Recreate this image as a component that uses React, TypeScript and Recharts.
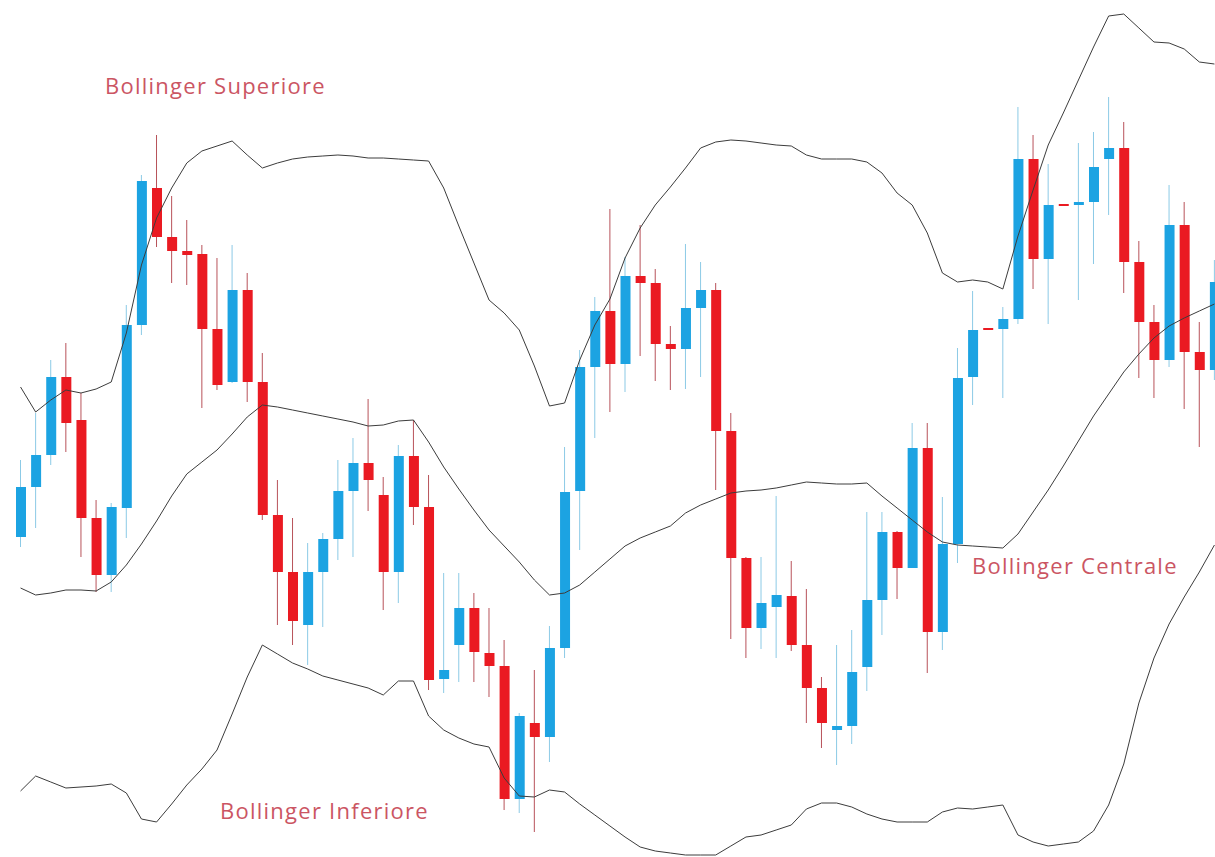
import { ComposedChart, Bar, Line, XAxis, YAxis, Cell } from "recharts";

// candle prices (open / high / low / close), one entry per period
const opens = [
  320, 370, 402, 480, 437, 339, 282, 349, 532, 669, 620, 606, 603, 528, 475, 567, 475, 342, 285, 232,
  285, 318, 366, 394, 362, 285, 401, 350, 178, 212, 249, 204, 191, 58, 134, 120, 209, 366, 490, 546,
  493, 581, 574, 513, 508, 549, 567, 426, 299, 229, 250, 261, 212, 169, 127, 131, 190, 257, 325, 289,
  409, 225, 313, 480, 528, 528, 538, 698, 598, 652, 652, 655, 698, 709, 595, 535, 497, 632, 505, 487,
];
const highs = [
  397, 444, 497, 514, 464, 357, 354, 552, 682, 722, 661, 637, 612, 599, 612, 584, 504, 377, 339, 314,
  324, 397, 419, 458, 380, 412, 437, 382, 284, 284, 264, 249, 217, 144, 187, 231, 410, 507, 560, 648,
  600, 632, 588, 531, 613, 595, 574, 444, 300, 300, 361, 296, 268, 180, 212, 227, 345, 345, 326, 434,
  434, 360, 509, 566, 528, 550, 750, 722, 693, 652, 714, 725, 760, 735, 616, 552, 672, 655, 535, 597,
];
const lows = [
  310, 329, 392, 405, 300, 265, 265, 319, 522, 610, 574, 572, 449, 467, 474, 455, 337, 232, 212, 192,
  230, 297, 300, 346, 247, 254, 332, 167, 164, 175, 175, 160, 47, 44, 25, 95, 199, 307, 419, 445,
  465, 501, 476, 467, 468, 480, 367, 218, 199, 208, 199, 206, 134, 109, 92, 113, 166, 222, 258, 289,
  184, 207, 294, 452, 527, 459, 533, 568, 533, 651, 557, 593, 642, 564, 479, 459, 490, 448, 410, 477,
];
const closes = [
  370, 402, 480, 434, 339, 282, 350, 532, 676, 620, 606, 602, 528, 472, 567, 475, 342, 285, 236, 285,
  318, 366, 394, 377, 285, 401, 350, 177, 187, 249, 205, 191, 58, 141, 120, 209, 365, 490, 546, 493,
  581, 574, 513, 508, 549, 567, 426, 299, 229, 254, 262, 212, 169, 134, 131, 185, 257, 325, 289, 409,
  225, 313, 479, 527, 527, 538, 698, 598, 652, 651, 655, 690, 709, 595, 535, 497, 632, 505, 487, 575,
];

// Bollinger bands
const upperBand = [
  470, 445, 457, 467, 464, 468, 475, 524, 592, 639, 669, 694, 706, 711, 716, 702, 689, 694, 698, 700,
  701, 702, 701, 699, 699, 698, 697, 696, 669, 631, 594, 557, 544, 527, 491, 451, 454, 497, 532, 558,
  599, 629, 652, 670, 689, 709, 715, 717, 716, 714, 712, 711, 702, 698, 698, 698, 695, 684, 664, 652,
  624, 584, 575, 577, 575, 568, 621, 667, 712, 744, 777, 810, 841, 843, 829, 815, 814, 808, 795, 793,
];
const middleBand = [
  269, 262, 264, 267, 267, 266, 275, 292, 313, 336, 361, 383, 395, 407, 423, 440, 452, 450, 447, 444,
  441, 438, 435, 431, 432, 436, 437, 415, 390, 368, 347, 327, 311, 295, 277, 262, 264, 272, 285, 298,
  311, 319, 325, 331, 344, 352, 358, 364, 366, 367, 369, 372, 375, 374, 373, 373, 374, 361, 349, 337,
  325, 315, 312, 311, 310, 309, 323, 345, 367, 391, 416, 441, 463, 485, 503, 519, 531, 539, 546, 553,
];
const lowerBand = [
  66, 81, 75, 69, 70, 71, 73, 64, 38, 35, 53, 72, 88, 107, 143, 180, 212, 203, 194, 188,
  181, 177, 173, 169, 162, 176, 176, 141, 127, 119, 113, 110, 79, 61, 60, 67, 65, 53, 42, 31,
  20, 10, 6, 4, 2, 2, 2, 11, 20, 22, 27, 32, 48, 54, 54, 50, 43, 38, 35, 35,
  35, 45, 49, 48, 50, 52, 22, 15, 11, 13, 15, 26, 52, 93, 154, 199, 233, 260, 285, 312,
];

const UP = "#1CA3E2";
const DOWN = "#EA1A22";
const UP_WICK = "#8CCAE6";
const DOWN_WICK = "#B8525A";
const LABEL = "#CB5563";

const rows = opens.map((o, i) => ({
  period: i + 1,
  body: [Math.min(o, closes[i]), Math.max(o, closes[i])],
  wick: [lows[i], highs[i]],
  up: closes[i] >= o,
  upper: upperBand[i],
  middle: middleBand[i],
  lower: lowerBand[i],
}));

const labelStyle = {
  position: "absolute" as const,
  fontFamily: "'Open Sans', Lato, sans-serif",
  fontSize: 22,
  lineHeight: "24px",
  color: LABEL,
  whiteSpace: "nowrap" as const,
  letterSpacing: 1.25,
};

export default function App() {
  return (
    <div
      style={{
        position: "absolute",
        left: 0,
        top: 0,
        width: 1215,
        height: 857,
        overflow: "hidden",
        background: "#fff",
      }}
    >
      <ComposedChart
        width={1222}
        height={857}
        data={rows}
        margin={{ top: 0, right: 0, bottom: 0, left: 13 }}
      >
        <XAxis xAxisId="body" dataKey="period" hide />
        <XAxis xAxisId="wick" dataKey="period" hide />
        <YAxis domain={[0, 857]} hide allowDataOverflow />
        <Line xAxisId="body" dataKey="upper" stroke="#3c3c3c" strokeWidth={1} dot={false} isAnimationActive={false} />
        <Line xAxisId="body" dataKey="middle" stroke="#3c3c3c" strokeWidth={1} dot={false} isAnimationActive={false} />
        <Line xAxisId="body" dataKey="lower" stroke="#3c3c3c" strokeWidth={1} dot={false} isAnimationActive={false} />
        <Bar xAxisId="wick" dataKey="wick" barSize={1} isAnimationActive={false}>
          {rows.map((r) => (
            <Cell key={r.period} fill={r.up ? UP_WICK : DOWN_WICK} />
          ))}
        </Bar>
        <Bar xAxisId="body" dataKey="body" barSize={10} minPointSize={2} isAnimationActive={false}>
          {rows.map((r) => (
            <Cell key={r.period} fill={r.up ? UP : DOWN} />
          ))}
        </Bar>
      </ComposedChart>
      <div style={{ ...labelStyle, left: 105, top: 73 }}>Bollinger Superiore</div>
      <div style={{ ...labelStyle, left: 972, top: 553 }}>Bollinger Centrale</div>
      <div style={{ ...labelStyle, left: 220, top: 798 }}>Bollinger Inferiore</div>
    </div>
  );
}
